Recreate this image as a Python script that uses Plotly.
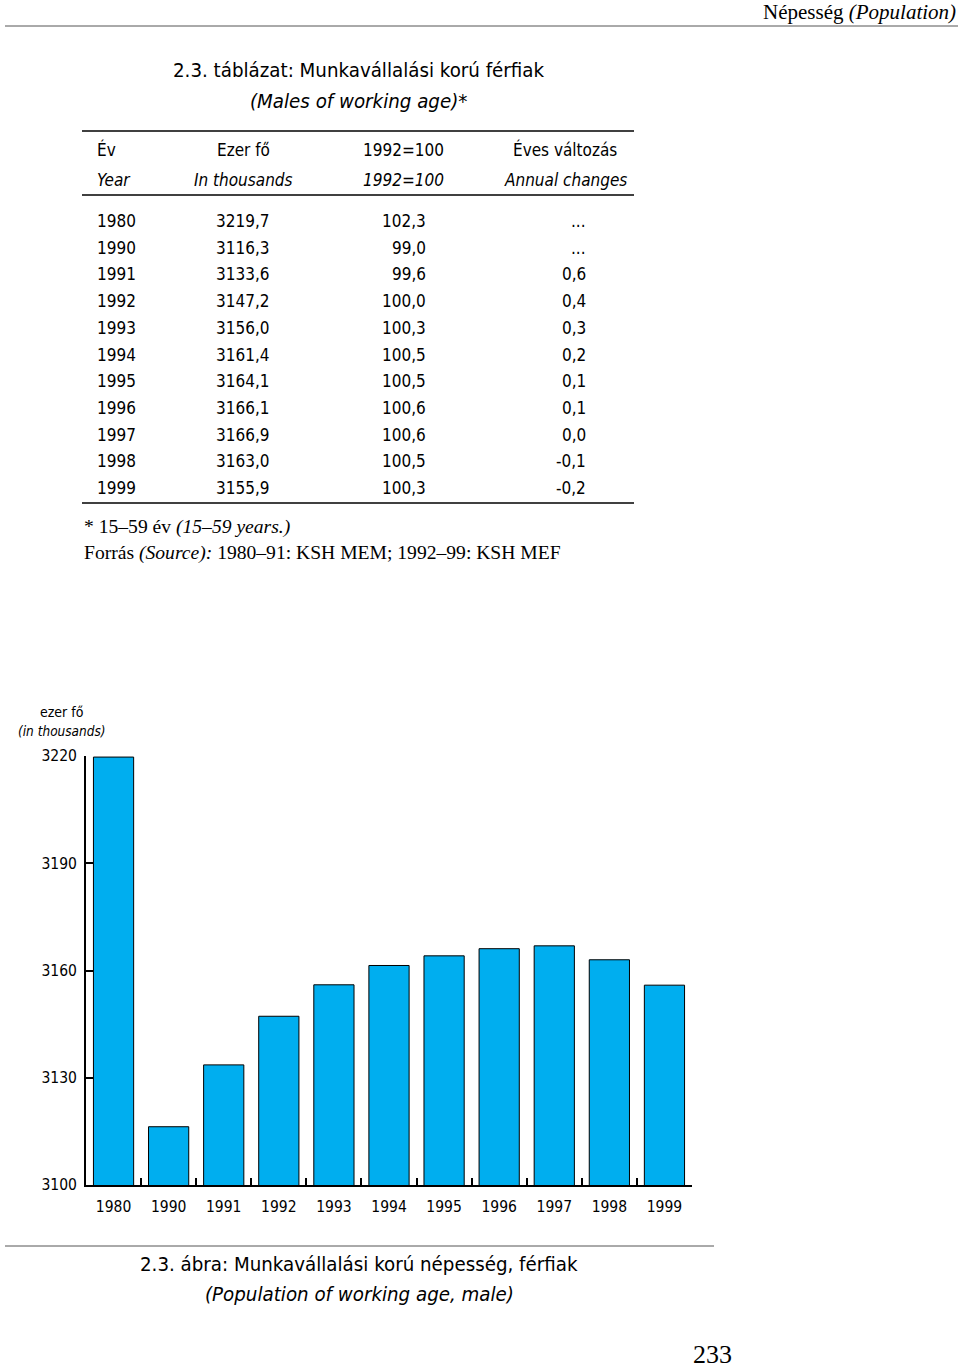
import plotly.graph_objects as go

# ---- data ----
years = ["1980", "1990", "1991", "1992", "1993", "1994", "1995", "1996", "1997", "1998", "1999"]
thousands = [3219.7, 3116.3, 3133.6, 3147.2, 3156.0, 3161.4, 3164.1, 3166.1, 3166.9, 3163.0, 3155.9]
index_1992 = [102.3, 99.0, 99.6, 100.0, 100.3, 100.5, 100.5, 100.6, 100.6, 100.5, 100.3]
annual_change = [None, None, 0.6, 0.4, 0.3, 0.2, 0.1, 0.1, 0.0, -0.1, -0.2]
y_ticks = [3100, 3130, 3160, 3190, 3220]

W, H = 960, 1370
COND = "DejaVu Sans Condensed, Liberation Sans Narrow, sans-serif"
SERIF = "Liberation Serif, DejaVu Serif, serif"
BAR = "#00AEEF"


def px(x):
    return x / W


def py(y):
    return 1 - y / H


def fmt(v):
    return f"{v:.1f}".replace(".", ",")


fig = go.Figure()
fig.add_trace(go.Bar(
    x=years, y=thousands,
    marker=dict(color=BAR, line=dict(color="black", width=1)),
    width=0.73,
))

ann = []


def text(x, y, s, size, font=COND, anchor="left", italic=False, color="black"):
    if italic:
        s = f"<i>{s}</i>"
    ann.append(dict(x=px(x), y=py(y), xref="paper", yref="paper", text=s,
                    showarrow=False, xanchor=anchor, yanchor="middle",
                    font=dict(family=font, size=size, color=color)))


# header
text(958, 12, "Népesség <i>(Population)</i>", 21, SERIF, "right")
# table title
text(358, 70, "2.3. táblázat: Munkavállalási korú férfiak", 20.3, COND, "center")
text(358, 101, "(Males of working age)*", 20.3, COND, "center", italic=True)
# column headers
hs = 17
text(95, 150, "Év", hs)
text(243, 150, "Ezer fő", hs, anchor="center")
text(403, 150, "1992=100", hs, anchor="center")
text(565, 150, "Éves változás", hs, anchor="center")
text(95, 180, "Year", hs, italic=True)
text(243, 180, "In thousands", hs, anchor="center", italic=True)
text(403, 180, "1992=100", hs, anchor="center", italic=True)
text(565, 180, "Annual changes", hs, anchor="center", italic=True)
# rows
for i, yr in enumerate(years):
    yy = 221 + i * 26.7
    text(95, yy, yr, hs)
    text(272, yy, fmt(thousands[i]), hs, anchor="right")
    text(428, yy, fmt(index_1992[i]), hs, anchor="right")
    ch = annual_change[i]
    text(588, yy, "..." if ch is None else fmt(ch), hs, anchor="right")
# footnotes
text(82, 527, "* 15–59 év <i>(15–59 years.)</i>", 19.6, SERIF)
text(82, 553, "Forrás <i>(Source):</i> 1980–91: KSH MEM; 1992–99: KSH MEF", 19.6, SERIF)
# axis title
text(62, 712, "ezer fő", 14, COND, "center")
text(62, 731, "(in thousands)", 13.5, COND, "center", italic=True)
# figure caption
text(359, 1264, "2.3. ábra: Munkavállalási korú népesség, férfiak", 20.3, COND, "center")
text(359, 1294, "(Population of working age, male)", 20.3, COND, "center", italic=True)
# page number
text(712, 1354, "233", 26, SERIF, "center")

shapes = []


def hline(x0, x1, y, w=1.5, color="black"):
    shapes.append(dict(type="line", xref="paper", yref="paper",
                       x0=px(x0), x1=px(x1), y0=py(y), y1=py(y),
                       line=dict(color=color, width=w)))


hline(5, 958, 26, 1, "#555")
hline(82, 634, 131, 1.5)
hline(82, 634, 195, 1.5)
hline(82, 634, 503, 1.5)
hline(5, 714, 1246, 1, "#555")

fig.update_layout(
    width=W, height=H,
    margin=dict(l=0, r=0, t=0, b=0, autoexpand=False),
    paper_bgcolor="white", plot_bgcolor="white",
    showlegend=False,
    annotations=ann, shapes=shapes,
    xaxis=dict(domain=[px(86), px(692)], type="category",
               showline=True, linecolor="black", linewidth=2,
               ticks="inside", tickson="boundaries", ticklen=7, tickwidth=2, tickcolor="black",
               tickfont=dict(family=COND, size=15.5, color="black"),
               showgrid=False, zeroline=False, anchor="y", ticklabelstandoff=6,
               automargin=False),
    yaxis=dict(domain=[py(1185), py(756)], range=[3100, 3220],
               tickvals=y_ticks, showline=True, linecolor="black", linewidth=2,
               ticks="inside", ticklen=7, tickwidth=2, tickcolor="black",
               tickfont=dict(family=COND, size=15.5, color="black"),
               showgrid=False, zeroline=False, anchor="x", automargin=False,
               ticklabelstandoff=4),
    bargap=0.27,
)

fig.write_html("out.html", config={"displayModeBar": False},
               post_script="document.body.style.margin='0';")
